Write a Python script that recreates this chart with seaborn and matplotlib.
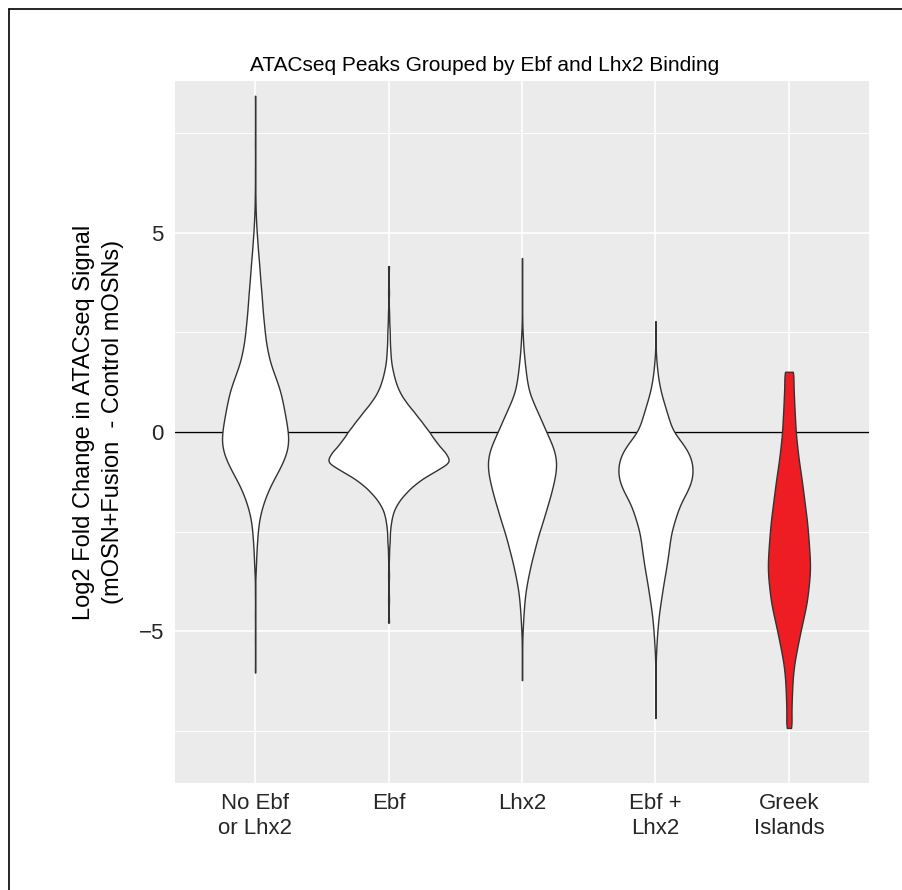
import numpy as np
import pandas as pd
import matplotlib
matplotlib.use("Agg")
import matplotlib.pyplot as plt
from matplotlib.lines import Line2D
import seaborn as sns

# ---------------- data ----------------
categories = ["No Ebf\nor Lhx2", "Ebf", "Lhx2", "Ebf +\nLhx2", "Greek\nIslands"]

noebf_vals = [8.43, 7.2, 6.5, 6.0, 5.75, 5.5, 5.25, 5.0, 4.75, 4.5, 4.25, 4.0, 3.75, 3.5,
              3.25, 3.0, 2.75, 2.5, 2.25, 2.0, 1.75, 1.5, 1.25, 1.0, 0.75, 0.5, 0.25, 0.0,
              -0.25, -0.5, -0.75, -1.0, -1.25, -1.5, -1.75, -2.0, -2.25, -2.5, -2.75, -3.0,
              -3.25, -3.5, -4.0, -4.6, -5.2, -6.03]
noebf_counts = [1, 1, 1, 1, 1, 2, 3, 5, 7, 9, 12, 14, 16, 19,
                21, 23, 26, 29, 32, 38, 44, 55, 66, 76, 82, 88, 93, 98,
                100, 95, 83, 68, 51, 37, 26, 17, 11, 8, 6, 4,
                3, 2, 1, 1, 1, 1]

ebf_vals = [4.16, 3.5, 3.0, 2.75, 2.5, 2.25, 2.0, 1.75, 1.5, 1.25, 1.0, 0.75, 0.5, 0.25,
            0.0, -0.25, -0.5, -0.75, -1.0, -1.25, -1.5, -1.75, -2.0, -2.25, -2.5, -2.75,
            -3.1, -3.6, -4.2, -4.78]
ebf_counts = [1, 1, 1, 1, 2, 2, 3, 4, 7, 11, 17, 27, 40, 52,
              64, 74, 88, 100, 70, 45, 28, 15, 7, 4, 2, 2,
              1, 1, 1, 1]

lhx2_vals = [4.36, 3.4, 2.9, 2.5, 2.25, 2.0, 1.75, 1.5, 1.25, 1.0, 0.75, 0.5, 0.25, 0.0,
             -0.25, -0.5, -0.75, -1.0, -1.25, -1.5, -1.75, -2.0, -2.25, -2.5, -2.75, -3.0,
             -3.25, -3.5, -3.75, -4.0, -4.25, -4.5, -4.75, -5.0, -5.4, -5.8, -6.22]
lhx2_counts = [1, 1, 1, 2, 3, 5, 8, 11, 15, 20, 32, 45, 58, 70,
               84, 95, 100, 98, 92, 85, 77, 68, 60, 50, 42, 35,
               27, 21, 15, 10, 7, 5, 3, 2, 1, 1, 1]

both_vals = [2.78, 2.1, 1.75, 1.5, 1.25, 1.0, 0.75, 0.5, 0.25, 0.0, -0.25, -0.5, -0.75,
             -1.0, -1.25, -1.5, -1.75, -2.0, -2.25, -2.5, -2.75, -3.0, -3.25, -3.5, -3.75,
             -4.0, -4.25, -4.5, -4.75, -5.0, -5.25, -5.5, -5.9, -6.4, -7.17]
both_counts = [1, 1, 3, 5, 9, 14, 22, 30, 38, 46, 70, 88, 98,
               100, 96, 84, 68, 58, 50, 42, 38, 35, 31, 27, 22,
               18, 14, 10, 7, 5, 3, 2, 1, 1, 1]

greek_vals = [1.51, 1.25, 1.0, 0.75, 0.5, 0.25, 0.0, -0.25, -0.5, -0.75, -1.0, -1.25,
              -1.5, -1.75, -2.0, -2.25, -2.5, -2.75, -3.0, -3.25, -3.5, -3.75, -4.0,
              -4.25, -4.5, -4.75, -5.0, -5.25, -5.5, -5.75, -6.0, -6.25, -6.5, -6.75,
              -7.0, -7.25, -7.42]
greek_counts = [25, 21, 23, 25, 27, 30, 32, 37, 42, 48, 55, 62,
                68, 74, 80, 86, 90, 94, 97, 100, 100, 96, 91,
                85, 76, 65, 55, 45, 36, 27, 21, 17, 15, 13,
                12, 11, 10]

ytick_vals = [-5, 0, 5]

# ---------------- styles ----------------
fill_colors = ["white", "white", "white", "white", "#EE1D24"]
violin_widths = [0.495, 0.90, 0.51, 0.555, 0.315]
bandwidths = [0.20, 0.15, 0.20, 0.20, 0.18]

frames = []
for cat, vals, cnts in zip(categories,
                           [noebf_vals, ebf_vals, lhx2_vals, both_vals, greek_vals],
                           [noebf_counts, ebf_counts, lhx2_counts, both_counts, greek_counts]):
    frames.append(pd.DataFrame({"group": cat, "lfc": np.repeat(vals, cnts)}))
df = pd.concat(frames, ignore_index=True)

sns.set_theme(style="darkgrid")
plt.rcParams["font.family"] = ["Liberation Sans", "DejaVu Sans"]

W, H = 902, 890
fig = plt.figure(figsize=(W / 100, H / 100), dpi=100)
ax = fig.add_axes([175 / W, 1 - 783 / H, (869 - 175) / W, (783 - 81) / H])
ax.set_facecolor("#EBEBEB")

for i, cat in enumerate(categories):
    sub = df[df["group"] == cat]
    sns.violinplot(data=sub, x="group", y="lfc", order=categories, ax=ax,
                   color=fill_colors[i], saturation=1, linecolor="#333333",
                   linewidth=1.0, inner=None, cut=0, density_norm="width",
                   width=violin_widths[i],
                   bw_method=bandwidths[i] / sub["lfc"].std(), gridsize=500)

ax.axhline(0, color="black", lw=1.0, zorder=0.8)

ax.set_xlim(-0.6, 4.6)
ax.set_ylim(-8.8, 8.8)
ax.set_yticks(ytick_vals)
ax.set_yticklabels(["\u22125", "0", "5"])
ax.set_yticks([-7.5, -2.5, 2.5, 7.5], minor=True)
ax.set_axisbelow(True)
ax.grid(which="major", color="white", lw=1.2)
ax.grid(which="minor", axis="y", color="white", lw=0.7)
ax.tick_params(which="both", length=0, labelsize=16, colors="#262626", pad=7)
ax.tick_params(axis="y", pad=8)
for lab in ax.get_xticklabels():
    lab.set_linespacing(1.25)
for s in ax.spines.values():
    s.set_visible(False)

ax.set_xlabel("")
ax.set_ylabel("Log2 Fold Change in ATACseq Signal\n(mOSN+Fusion  - Control mOSNs)",
              fontsize=17, color="black", linespacing=1.4)
ax.yaxis.set_label_coords(-0.074, 0.514)
ax.set_title("ATACseq Peaks Grouped by Ebf and Lhx2 Binding", fontsize=15,
             color="black", x=0.446, pad=7)

# outer frame (left and top edges visible)
fig.add_artist(Line2D([9 / W, 9 / W], [0, 1 - 9 / H], color="black", lw=1.2,
                      transform=fig.transFigure))
fig.add_artist(Line2D([9 / W, 1], [1 - 9 / H, 1 - 9 / H], color="black", lw=1.2,
                      transform=fig.transFigure))

fig.savefig("out.png", dpi=100)
